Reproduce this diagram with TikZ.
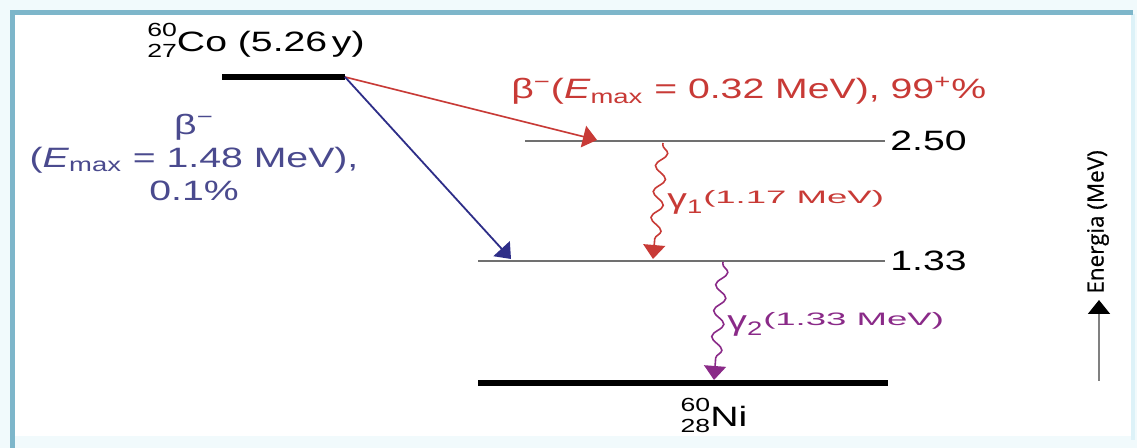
\documentclass[tikz,border=0pt]{standalone}
\usepackage{fontspec}
\setmainfont{Liberation Sans}[FakeStretch=1.4]
\newfontfamily\axisfont{Open Sans}[FakeBold=0.6]
\usetikzlibrary{arrows.meta,decorations.pathmorphing}
\definecolor{betared}{HTML}{C83A36}
\definecolor{betablue}{HTML}{2E2E88}
\definecolor{bluetext}{HTML}{4A4A8E}
\definecolor{gammapurple}{HTML}{8A2A88}
\definecolor{levelgray}{HTML}{707070}
\definecolor{framecol}{HTML}{7DB6CA}
\definecolor{framelight}{HTML}{DDF2F8}
\newcommand{\Emax}{\textit{E}\textsubscript{max}}
\newcommand{\nuc}[3]{\rlap{\raisebox{7.5pt}{\fontsize{9.5}{10}\selectfont#1}}%
  \raisebox{-3pt}{\fontsize{9.5}{10}\selectfont#2}#3}
\newcommand{\gsup}[1]{\raisebox{2.5pt}{\scalebox{1.45}[1]{\fontsize{9}{10}\selectfont(#1 MeV)}}}

\begin{document}
\begin{tikzpicture}[x=0.5pt,y=-0.5pt,
    lbl/.style={inner sep=0pt,font=\fontsize{14}{16.5}\selectfont},
    level/.style={levelgray,line width=1pt},
    ground/.style={black,line width=3.3pt},
    tip/.style={-{Triangle[width=11pt,length=7pt]}},
    gammaline/.style={tip,line width=0.8pt,decorate,
      decoration={snake,amplitude=2.8pt,segment length=13pt,pre length=1pt,post length=7pt}}]
  \useasboundingbox (0,0) rectangle (1137,448);
  % frame
  \fill[framelight!40] (0,0) rectangle (1137,448);
  \fill[white] (14,15) rectangle (1132,436);
  \draw[framelight,line width=2pt] (1133,14) -- (1133,440);
  \draw[framecol,line width=2.5pt] (12,448) -- (12,13) -- (1133,13);

  % levels
  \coordinate (co-l) at (222,77);
  \coordinate (co-r) at (345,77);
  \coordinate (l250-l) at (525,141);
  \coordinate (l250-r) at (885,141);
  \coordinate (l133-l) at (478,261);
  \coordinate (l133-r) at (885,261);
  \coordinate (ni-l) at (478,383);
  \coordinate (ni-r) at (888,383);
  \draw[ground] (co-l) -- (co-r);
  \draw[level] (l250-l) -- (l250-r);
  \draw[level] (l133-l) -- (l133-r);
  \draw[ground] (ni-l) -- (ni-r);

  \node[lbl,anchor=base] (co) at (256,52) {\nuc{60}{27}{Co} (5.26\,y)};
  \node[lbl,anchor=base] (ni) at (714,427) {\nuc{60}{28}{Ni}};
  \node[lbl,anchor=west] (e250) at (890,141) {2.50};
  \node[lbl,anchor=west] (e133) at (890,261) {1.33};

  % transitions
  \coordinate (b1) at (597,140);
  \coordinate (b2) at (511,259);
  \coordinate (g1s) at (663,143);
  \coordinate (g1e) at (653,259);
  \coordinate (g2s) at (723,262);
  \coordinate (g2e) at (714,380);
  \draw[tip,betared,line width=0.8pt] (co-r) -- (b1);
  \draw[tip,betablue,line width=0.9pt] (co-r) -- (b2);
  \draw[gammaline,betared] (g1s) -- (g1e);
  \draw[gammaline,gammapurple] (g2s) -- (g2e);

  \node[lbl,betared,anchor=base west] (bred) at (511,99)
    {β\textsuperscript{−}(\Emax{} = 0.32 MeV), 99\textsuperscript{+}\%};
  \node[lbl,bluetext,align=center] (bblue) at (194,157)
    {β\textsuperscript{−}\\(\Emax{} = 1.48 MeV),\\0.1\%};
  \node[lbl,betared,anchor=base west] (g1) at (667,209) {γ\textsubscript{1}\gsup{1.17}};
  \node[lbl,gammapurple,anchor=base west] (g2) at (727,331) {γ\textsubscript{2}\gsup{1.33}};

  % energy axis
  \coordinate (ax-s) at (1099,381);
  \coordinate (ax-e) at (1099,300);
  \draw[-{Triangle[width=11pt,length=7pt,color=black]},gray,line width=1pt] (ax-s) -- (ax-e);
  \node[inner sep=0pt,rotate=90,anchor=west,font=\axisfont\fontsize{11.2}{13}\selectfont] (en) at (1098,294) {Energia (MeV)};
\end{tikzpicture}
\end{document}
